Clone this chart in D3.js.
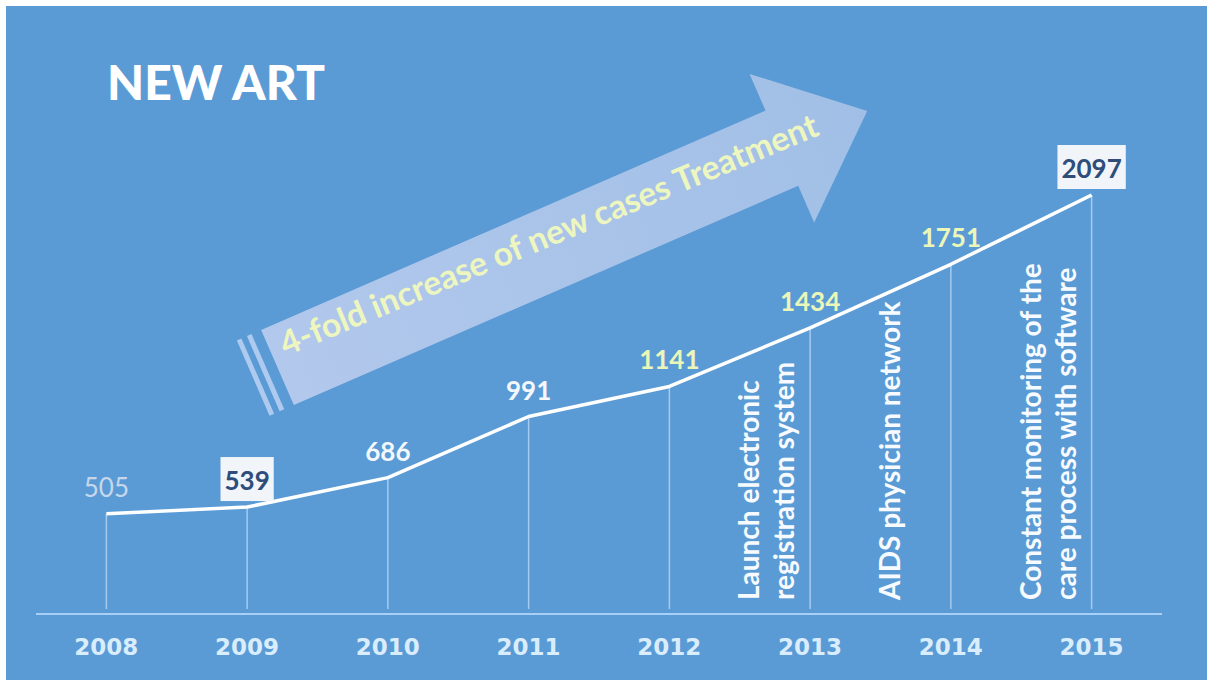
<!DOCTYPE html>
<html>
<head>
<meta charset="utf-8">
<script src="https://cdn.jsdelivr.net/npm/d3@7"></script>
<style>
  html, body { margin: 0; padding: 0; background: #ffffff; }
  svg { display: block; }
</style>
</head>
<body>
<svg id="chart" width="1209" height="683"></svg>
<script>
// ---- data ----
const years = [2008, 2009, 2010, 2011, 2012, 2013, 2014, 2015];
const newArtCases = [505, 539, 686, 991, 1141, 1434, 1751, 2097];
const yearTickLabels = ["2008", "2009", "2010", "2011", "2012", "2013", "2014", "2015"];
const milestoneYears = [2013, 2014, 2015];
const milestoneTexts = [
  ["Launch electronic", "registration system"],
  ["AIDS physician network"],
  ["Constant monitoring of the", "care process with software"]
];
const chartTitle = "NEW ART";
const trendText = "4-fold increase of new cases Treatment";

// label tone per year (style, kept apart from the values)
const labelTone = {
  2008: "muted", 2009: "boxed", 2010: "white", 2011: "white",
  2012: "yellow", 2013: "yellow", 2014: "yellow", 2015: "boxed"
};

// ---- layout ----
const W = 1209, H = 683;
const svg = d3.select("#chart");
const bg = "#5b9bd5";
const fontMain = "Lato, 'Open Sans', sans-serif";

svg.append("rect").attr("x", 0).attr("y", 0).attr("width", W).attr("height", H).attr("fill", "#ffffff");
svg.append("rect").attr("x", 6).attr("y", 6).attr("width", 1201).attr("height", 674).attr("fill", bg);

const x = d3.scalePoint().domain(years).range([36, 1162]).padding(0.5);
const y = d3.scaleLinear().domain([0, 2100]).range([615, 194.4]);

const points = years.map((yr, i) => ({ year: yr, value: newArtCases[i] }));

// ---- trend arrow (decorative, drawn in its own rotated frame) ----
const defs = svg.append("defs");
const grad = defs.append("linearGradient").attr("id", "arrowFill")
  .attr("x1", "0%").attr("x2", "100%").attr("y1", "0%").attr("y2", "0%");
grad.append("stop").attr("offset", "0%").attr("stop-color", "#b2c8ec");
grad.append("stop").attr("offset", "100%").attr("stop-color", "#a1bfe6");

const arrowG = svg.append("g").attr("transform", "translate(277.5,367.5) rotate(-23.5)");
const shaftLen = 550, halfShaft = 41, halfHead = 81, tipLen = 643;
const arrowPath = d3.path();
arrowPath.moveTo(0, -halfShaft);
arrowPath.lineTo(shaftLen, -halfShaft);
arrowPath.lineTo(shaftLen, -halfHead);
arrowPath.lineTo(tipLen, 0);
arrowPath.lineTo(shaftLen, halfHead);
arrowPath.lineTo(shaftLen, halfShaft);
arrowPath.lineTo(0, halfShaft);
arrowPath.closePath();
arrowG.append("path").attr("d", arrowPath.toString()).attr("fill", "url(#arrowFill)");

// tail stripes
[-24, -13].forEach(off => {
  arrowG.append("rect")
    .attr("x", off - 2.5).attr("y", -halfShaft)
    .attr("width", 5).attr("height", halfShaft * 2)
    .attr("fill", "#aecaee");
});

arrowG.append("text")
  .attr("transform", "translate(12,-7) rotate(1)")
  .attr("text-anchor", "start")
  .attr("font-family", fontMain)
  .attr("font-weight", 700)
  .attr("font-size", 33.5)
  .attr("fill", "#eef6bf")
  .text(trendText);

// ---- title ----
svg.append("text")
  .attr("x", 107).attr("y", 100)
  .attr("font-family", fontMain)
  .attr("font-weight", 900)
  .attr("font-size", 48)
  .attr("fill", "#ffffff")
  .text(chartTitle);

// ---- baseline axis ----
svg.append("line")
  .attr("x1", x.range()[0]).attr("x2", x.range()[1])
  .attr("y1", y(0) - 1).attr("y2", y(0) - 1)
  .attr("stroke", "#a8d0f6").attr("stroke-width", 2);

// year labels
svg.append("g").selectAll("text")
  .data(years)
  .join("text")
  .attr("x", d => x(d))
  .attr("y", 655)
  .attr("text-anchor", "middle")
  .attr("font-family", "'DejaVu Sans', sans-serif")
  .attr("font-weight", 700)
  .attr("font-size", 23)
  .attr("fill", "#d9edfd")
  .text((d, i) => yearTickLabels[i]);

// ---- drop lines ----
svg.append("g").selectAll("line")
  .data(points)
  .join("line")
  .attr("x1", d => x(d.year)).attr("x2", d => x(d.year))
  .attr("y1", d => y(d.value)).attr("y2", y(0) - 6)
  .attr("stroke", "#a6cbef").attr("stroke-width", 1.5);

// ---- milestone notes ----
milestoneYears.forEach((yr, k) => {
  milestoneTexts[k].forEach((line, j) => {
    const bx = x(yr) - 51 + j * 35;
    svg.append("text")
      .attr("transform", `translate(${bx},600) rotate(-90)`)
      .attr("text-anchor", "start")
      .attr("font-family", fontMain)
      .attr("font-weight", 700)
      .attr("font-size", 28)
      .attr("fill", "#f7fbff")
      .text(line);
  });
});

// ---- series line ----
const lineGen = d3.line().x(d => x(d.year)).y(d => y(d.value));
svg.append("path")
  .datum(points)
  .attr("d", lineGen)
  .attr("fill", "none")
  .attr("stroke", "#ffffff")
  .attr("stroke-width", 3.5)
  .attr("stroke-linejoin", "round");

// ---- value labels ----
const toneColor = { muted: "#c6d7ec", white: "#f3f8fd", yellow: "#ebf7b9", boxed: "#2e4d7b" };
const labelG = svg.append("g");
points.forEach(d => {
  const tone = labelTone[d.year];
  const g = labelG.append("g");
  const t = g.append("text")
    .attr("x", x(d.year))
    .attr("y", y(d.value) - 17)
    .attr("text-anchor", "middle")
    .attr("font-family", fontMain)
    .attr("font-weight", tone === "muted" ? 400 : 700)
    .attr("font-size", 26)
    .attr("fill", toneColor[tone])
    .text(d.value);
  if (tone === "boxed") {
    const bb = t.node().getBBox();
    g.insert("rect", "text")
      .attr("x", bb.x - 4).attr("y", bb.y - 7)
      .attr("width", bb.width + 8).attr("height", bb.height + 12)
      .attr("fill", "#f1f4f8");
  }
});
</script>
</body>
</html>
